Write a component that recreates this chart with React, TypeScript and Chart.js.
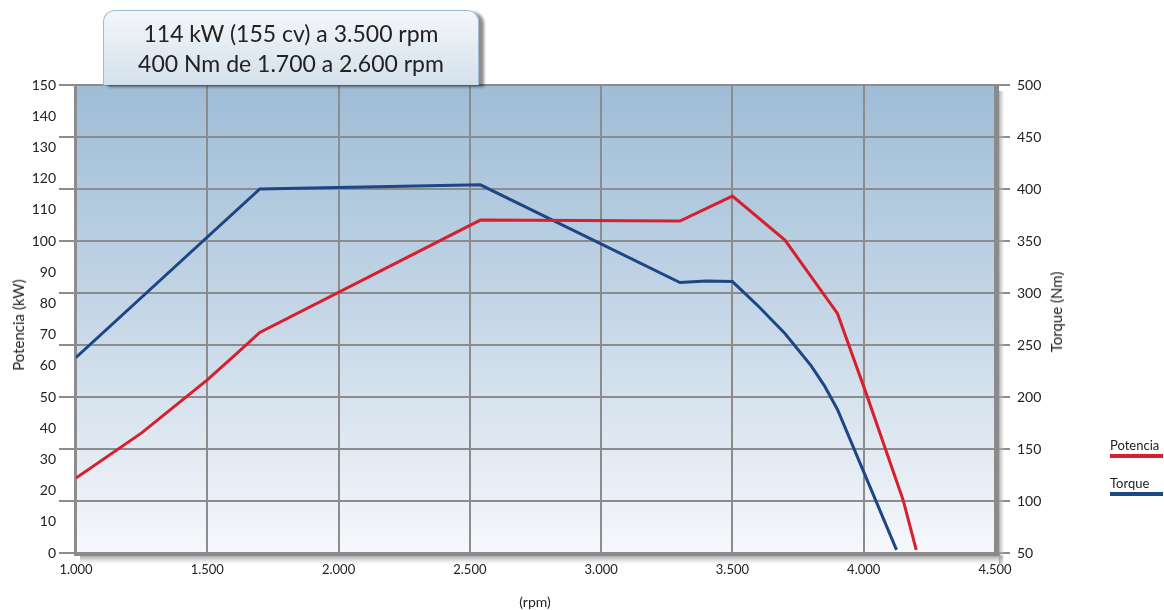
import React, { useEffect, useRef } from "react";
import { Chart, registerables } from "chart.js";

Chart.register(...registerables);

// ---- data ----
const potenciaRpm = [1000, 1250, 1500, 1600, 1700, 2540, 3300, 3500, 3700, 3900, 4010, 4150, 4200];
const potenciaKw = [24, 38.5, 55.5, 63, 70.7, 106.7, 106.4, 114.4, 100.3, 76.8, 51, 17, 1];
const torqueRpm = [1000, 1700, 2540, 3300, 3400, 3500, 3600, 3700, 3800, 3850, 3900, 4000, 4125];
const torqueNm = [238, 400, 404, 310, 311.5, 311, 287, 261, 230, 211, 188, 128, 53];

const rpmMin = 1000;
const rpmMax = 4500;
const rpmStep = 500;
const kwMin = 0;
const kwMax = 150;
const kwStep = 10;
const nmMin = 50;
const nmMax = 500;
const nmStep = 50;

const titleLines = ["114 kW (155 cv) a 3.500 rpm", "400 Nm de 1.700 a 2.600 rpm"];
const leftTitle = "Potencia (kW)";
const rightTitle = "Torque (Nm)";
const xTitle = "(rpm)";
const seriesNames = ["Potencia", "Torque"];

const RED = "#d7202e";
const BLUE = "#1d4686";
const GRID = "#8c8c8c";
const FONT = "Lato, 'Open Sans', sans-serif";

function fmtThousands(v: number): string {
  const th = Math.floor(v / 1000);
  const rest = Math.round(v % 1000);
  return `${th}.${String(rest).padStart(3, "0")}`;
}

const decorPlugin = {
  id: "decor",
  beforeDraw(chart: any) {
    const { ctx, chartArea } = chart;
    const { left, right, top, bottom } = chartArea;
    const g = ctx.createLinearGradient(0, top, 0, bottom);
    g.addColorStop(0, "#9ebdd6");
    g.addColorStop(0.5, "#c6d7e7");
    g.addColorStop(1, "#f6f8fb");
    ctx.save();
    ctx.fillStyle = g;
    ctx.fillRect(left, top, right - left, bottom - top);
    ctx.restore();
  },
  beforeDatasetsDraw(chart: any) {
    const { ctx, chartArea, scales } = chart;
    const { left, right, top, bottom } = chartArea;
    ctx.save();
    ctx.strokeStyle = GRID;
    ctx.lineWidth = 2;
    const y1 = scales.y1;
    y1.ticks.forEach((t: any) => {
      const y = Math.round(y1.getPixelForValue(t.value));
      ctx.beginPath();
      ctx.moveTo(left - 17, y);
      ctx.lineTo(left, y);
      ctx.stroke();
    });
    ctx.beginPath();
    ctx.moveTo(left - 1, top);
    ctx.lineTo(left - 1, bottom);
    ctx.stroke();
    ctx.fillStyle = "#8a8a8a";
    ctx.fillRect(left - 2, bottom - 1, right - left + 7, 4);
    let sg = ctx.createLinearGradient(0, bottom + 3, 0, bottom + 12);
    sg.addColorStop(0, "rgba(150,150,150,0.8)");
    sg.addColorStop(1, "rgba(220,220,220,0)");
    ctx.fillStyle = sg;
    ctx.fillRect(left + 4, bottom + 3, right - left + 4, 9);
    ctx.fillStyle = "#8a8a8a";
    ctx.fillRect(right - 1, top, 5, bottom - top + 2);
    sg = ctx.createLinearGradient(right + 4, 0, right + 10, 0);
    sg.addColorStop(0, "rgba(150,150,150,0.8)");
    sg.addColorStop(1, "rgba(220,220,220,0)");
    ctx.fillStyle = sg;
    ctx.fillRect(right + 4, top + 6, 6, bottom - top + 6);
    ctx.restore();
  },
};

export default function App() {
  const canvasRef = useRef<HTMLCanvasElement | null>(null);

  useEffect(() => {
    if (!canvasRef.current) return;
    const chart = new Chart(canvasRef.current, {
      type: "line",
      data: {
        datasets: [
          {
            label: seriesNames[0],
            data: potenciaRpm.map((x, i) => ({ x, y: potenciaKw[i] })),
            borderColor: RED,
            borderWidth: 3,
            pointRadius: 0,
            tension: 0,
            yAxisID: "y",
          },
          {
            label: seriesNames[1],
            data: torqueRpm.map((x, i) => ({ x, y: torqueNm[i] })),
            borderColor: BLUE,
            borderWidth: 3,
            pointRadius: 0,
            tension: 0,
            yAxisID: "y1",
          },
        ],
      },
      plugins: [decorPlugin],
      options: {
        animation: false,
        responsive: true,
        maintainAspectRatio: false,
        layout: { padding: { top: 85, left: 0, right: 0, bottom: 0 } },
        plugins: {
          legend: { display: false },
          tooltip: { enabled: false },
        },
        scales: {
          x: {
            type: "linear",
            min: rpmMin,
            max: rpmMax,
            ticks: {
              stepSize: rpmStep,
              callback: (v: any) => fmtThousands(Number(v)),
              color: "#222",
              font: { family: FONT, size: 13 },
              padding: 9,
              maxRotation: 0,
            },
            grid: { color: GRID, lineWidth: 2, drawTicks: false },
            border: { display: false },
            afterFit: (s: any) => {
              s.height = 57;
            },
          },
          y: {
            position: "left",
            min: kwMin,
            max: kwMax,
            ticks: {
              stepSize: kwStep,
              color: "#222",
              font: { family: FONT, size: 14 },
              padding: 20,
            },
            grid: { display: true, drawOnChartArea: false, drawTicks: false },
            border: { display: false },
            afterFit: (s: any) => {
              s.width = 76;
            },
          },
          y1: {
            position: "right",
            min: nmMin,
            max: nmMax,
            ticks: {
              stepSize: nmStep,
              color: "#222",
              font: { family: FONT, size: 14 },
              padding: 7,
            },
            grid: { color: GRID, lineWidth: 2, drawTicks: true, tickLength: 15 },
            border: { display: false },
            afterFit: (s: any) => {
              s.width = 169;
            },
          },
        },
      },
    } as any);
    return () => chart.destroy();
  }, []);

  const axisTitle: React.CSSProperties = {
    position: "absolute",
    fontSize: 15,
    fontWeight: 400,
    color: "#222",
    whiteSpace: "nowrap",
  };

  return (
    <div
      style={{
        position: "absolute",
        left: 0,
        top: 0,
        width: 1164,
        height: 610,
        background: "#fff",
        fontFamily: FONT,
        color: "#222",
        overflow: "hidden",
      }}
    >
      <canvas ref={canvasRef} style={{ width: "100%", height: "100%" }} />
      <div
        style={{
          position: "absolute",
          left: 103,
          top: 10,
          width: 376,
          height: 75,
          boxSizing: "border-box",
          border: "1px solid #9cbcd4",
          borderBottom: "none",
          borderRadius: "12px 12px 0 0",
          background: "linear-gradient(#f4f7fa, #d3e0eb)",
          boxShadow: "5px 2px 3px rgba(0,0,0,0.45)",
          textAlign: "center",
          fontSize: 23,
          lineHeight: "30px",
          paddingTop: 7,
          color: "#222",
        }}
      >
        <div>{titleLines[0]}</div>
        <div>{titleLines[1]}</div>
      </div>
      <div style={{ ...axisTitle, left: 18, top: 325, transform: "translate(-50%, -50%) rotate(-90deg)" }}>
        {leftTitle}
      </div>
      <div style={{ ...axisTitle, left: 1056, top: 312, transform: "translate(-50%, -50%) rotate(-90deg)" }}>
        {rightTitle}
      </div>
      <div style={{ ...axisTitle, fontSize: 14, left: 535, top: 601, transform: "translate(-50%, -50%)" }}>
        {xTitle}
      </div>
      <div style={{ position: "absolute", left: 1110, top: 437, fontSize: 13 }}>
        {seriesNames[0]}
        <div style={{ width: 53, height: 4, background: RED, marginTop: 1 }} />
      </div>
      <div style={{ position: "absolute", left: 1110, top: 475, fontSize: 13 }}>
        {seriesNames[1]}
        <div style={{ width: 53, height: 4, background: BLUE, marginTop: 1 }} />
      </div>
    </div>
  );
}
